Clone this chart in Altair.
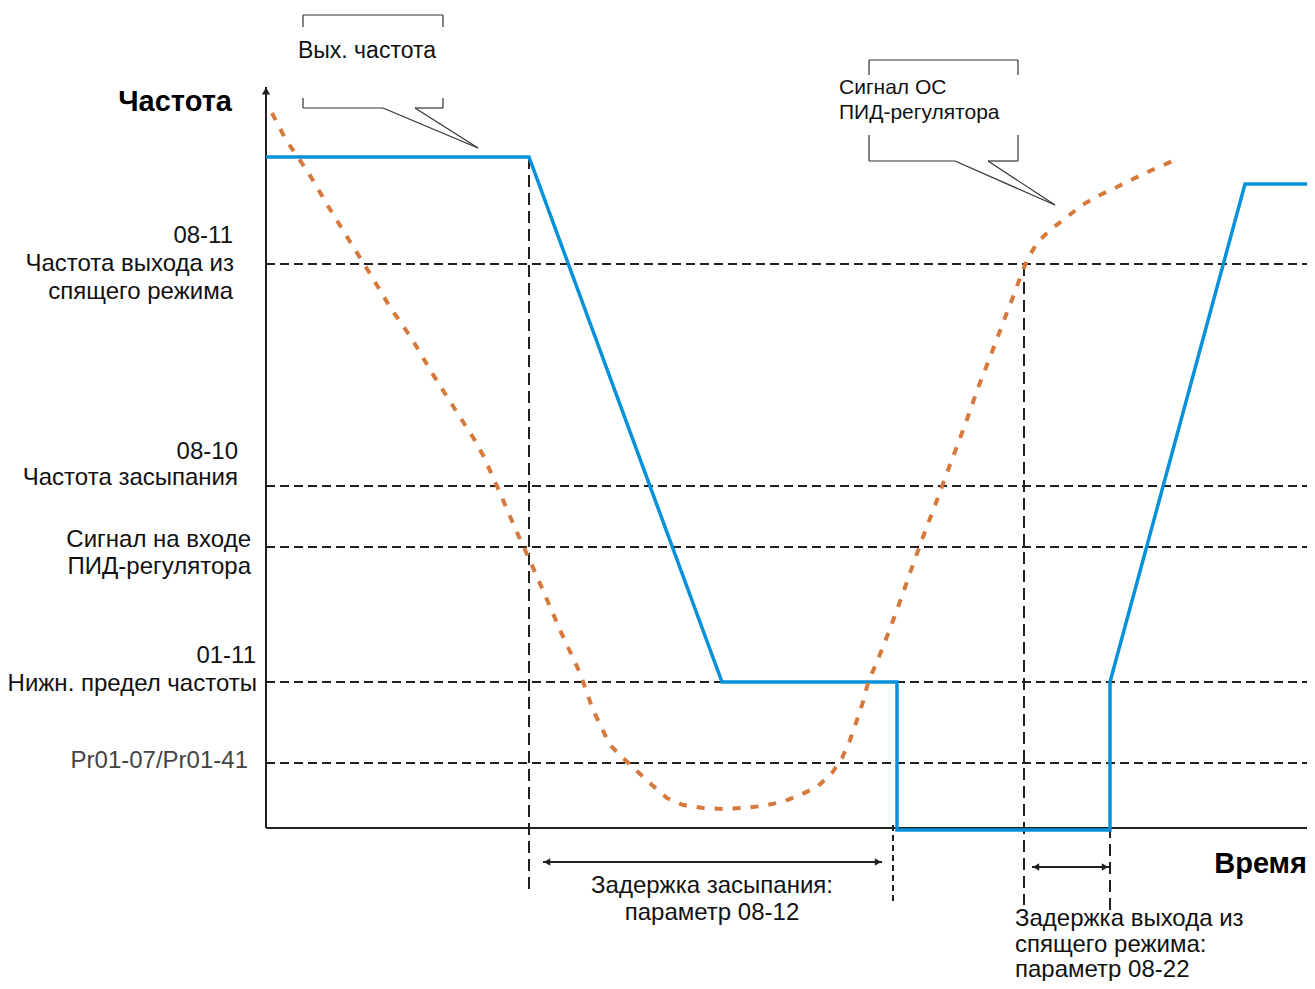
import altair as alt
import pandas as pd

# ---------------- data (time units t, level units f; f=0 is the time axis) -------------
level_names = ["08-11", "08-10", "pid_in", "01-11", "pr01-07"]
level_values = [564, 342, 281, 146, 65]
time_end = 1049

# output frequency (blue)
out_t = [0, 263, 456, 631, 631, 844, 844, 979, 1049]
out_f = [671, 671, 146, 146, -2, -2, 146, 644, 644]

# PID feedback signal (orange, dotted)
fb_t = [6, 20, 42, 62, 83, 103, 124, 146, 166, 187,
        208, 218, 234, 249, 265, 279, 294, 314, 327, 344,
        357, 372, 386, 401, 417, 437, 457, 477, 496, 516,
        534, 551, 566, 576, 584, 591, 597, 602, 617, 631,
        644, 657, 671, 685, 699, 712, 726, 740, 747, 754,
        761, 771, 784, 801, 816, 834, 851, 869, 886, 909]
fb_f = [715, 688, 656, 622, 588, 556, 521, 489, 455, 422,
        389, 371, 335, 300, 265, 233, 198, 155, 118, 83,
        70, 56, 43, 30, 23, 20, 19, 20, 22, 26,
        33, 41, 55, 70, 88, 108, 126, 145, 181, 218,
        255, 291, 328, 366, 403, 440, 476, 513, 531, 550,
        568, 585, 598, 611, 623, 633, 641, 650, 658, 668]

# vertical dashed markers
vdash_t = [263, 627, 758, 844]
vdash_top = [671, 3, 564, 146]
vdash_bot = [-62, -73, -77, -82]
vdash_style = ["long", "short", "long", "long"]

# axes
axis_t1 = [0, 0]
axis_f1 = [0, 0]
axis_t2 = [0, 1047]
axis_f2 = [741, 0]
axis_head_t = [0, 1045]
axis_head_f = [737, 0]
axis_head_shape = ["triangle-up", "triangle-right"]

# dimension arrows
dim_t1 = [277, 766]
dim_t2 = [616, 843]
dim_f = [-34, -39]
dim_head_t = [281, 612, 770, 839]
dim_head_f = [-34, -34, -39, -39]
dim_head_shape = ["triangle-left", "triangle-right", "triangle-left", "triangle-right"]

# callout outlines
call_t1 = [37, 37, 177, 37, 177, 37, 149, 117, 149,
           603, 603, 752, 603, 752, 603, 722, 689, 722]
call_f1 = [813, 813, 813, 730, 730, 720, 720, 720, 720,
           768, 768, 768, 693, 693, 667, 667, 667, 667]
call_t2 = [177, 37, 177, 37, 177, 117, 177, 212, 212,
           752, 603, 752, 603, 752, 689, 752, 789, 789]
call_f2 = [813, 801, 801, 720, 720, 720, 720, 680, 680,
           768, 753, 753, 667, 667, 667, 667, 623, 623]

# texts
right_text = ["08-11", "Частота выхода из", "спящего режима", "08-10", "Частота засыпания",
              "Сигнал на входе", "ПИД-регулятора", "01-11", "Нижн. предел частоты"]
right_t = [-33, -32, -33, -28, -28, -15, -15, -10, -9]
right_f = [592, 564, 536, 376, 350, 288, 261, 172, 144]

gray_text = ["Pr01-07/Pr01-41"]
gray_t = [-18]
gray_f = [67]

bold_text = ["Частота", "Время"]
bold_t = [-34, 1041]
bold_f = [726, -36]

callout_text = ["Вых. частота"]
callout_t = [101]
callout_f = [777]

center_text = ["Задержка засыпания:", "параметр 08-12"]
center_t = [446, 446]
center_f = [-58, -85]

pid_text = ["Сигнал ОС", "ПИД-регулятора"]
pid_t = [573, 573]
pid_f = [740, 715]

left_text = ["Задержка выхода из", "спящего режима:", "параметр 08-22"]
left_t = [749, 749, 749]
left_f = [-91, -117, -142]

# ---------------- chart -------------
BLACK = "#231f20"
BLUE = "#0791d9"
ORANGE = "#d5793c"
FONT = "Liberation Sans"

XS = alt.Scale(domain=[-258, 1041], nice=False, zero=False)
YS = alt.Scale(domain=[-153, 820], nice=False, zero=False)


def X(f="t"):
    return alt.X(f"{f}:Q", scale=XS, axis=None)


def Y(f="f"):
    return alt.Y(f"{f}:Q", scale=YS, axis=None)


hdf = pd.DataFrame({"name": level_names, "f": level_values,
                    "t": [0] * len(level_values), "t2": [time_end] * len(level_values)})
hlines = alt.Chart(hdf).mark_rule(color=BLACK, strokeWidth=2, strokeDash=[9, 5]).encode(
    x=X(), x2="t2:Q", y=Y())

vdf = pd.DataFrame({"t": vdash_t, "f": vdash_top, "f2": vdash_bot, "style": vdash_style})
vlong = alt.Chart(vdf[vdf["style"] == "long"]).mark_rule(
    color=BLACK, strokeWidth=2, strokeDash=[12, 6]).encode(x=X(), y=Y(), y2="f2:Q")
vshort = alt.Chart(vdf[vdf["style"] == "short"]).mark_rule(
    color=BLACK, strokeWidth=2, strokeDash=[6, 4]).encode(x=X(), y=Y(), y2="f2:Q")

adf = pd.DataFrame({"t": axis_t1, "f": axis_f1, "t2": axis_t2, "f2": axis_f2})
axes = alt.Chart(adf).mark_rule(color=BLACK, strokeWidth=2).encode(
    x=X(), y=Y(), x2="t2:Q", y2="f2:Q")
ahdf = pd.DataFrame({"t": axis_head_t, "f": axis_head_f, "shape": axis_head_shape})
axis_heads = alt.Chart(ahdf).mark_point(filled=True, color=BLACK, opacity=1, size=70).encode(
    x=X(), y=Y(), shape=alt.Shape("shape:N", scale=None))

ddf = pd.DataFrame({"t": dim_t1, "t2": dim_t2, "f": dim_f})
dims = alt.Chart(ddf).mark_rule(color=BLACK, strokeWidth=2).encode(x=X(), x2="t2:Q", y=Y())
dhdf = pd.DataFrame({"t": dim_head_t, "f": dim_head_f, "shape": dim_head_shape})
dim_heads = alt.Chart(dhdf).mark_point(filled=True, color=BLACK, opacity=1, size=55).encode(
    x=X(), y=Y(), shape=alt.Shape("shape:N", scale=None))

cdf = pd.DataFrame({"t": call_t1, "f": call_f1, "t2": call_t2, "f2": call_f2})
callouts = alt.Chart(cdf).mark_rule(color="#333333", strokeWidth=1.2).encode(
    x=X(), y=Y(), x2="t2:Q", y2="f2:Q")

odf = pd.DataFrame({"t": out_t, "f": out_f, "i": list(range(len(out_t)))})
out_line = alt.Chart(odf).mark_line(color=BLUE, strokeWidth=3.5, strokeJoin="miter").encode(
    x=X(), y=Y(), order="i:Q")

fdf = pd.DataFrame({"t": fb_t, "f": fb_f, "i": list(range(len(fb_t)))})
fb_line = alt.Chart(fdf).mark_line(color=ORANGE, strokeWidth=4, strokeDash=[8, 10]).encode(
    x=X(), y=Y(), order="i:Q")


def texts(txt, tt, ff, align, size=24, weight="normal", color="#111111"):
    df = pd.DataFrame({"label": txt, "t": tt, "f": ff})
    return alt.Chart(df).mark_text(align=align, baseline="middle", font=FONT, fontSize=size,
                                   fontWeight=weight, color=color).encode(
        x=X(), y=Y(), text="label:N")


layers = [
    hlines, vlong, vshort, axes, axis_heads, dims, dim_heads, callouts, out_line, fb_line,
    texts(right_text, right_t, right_f, "right"),
    texts(gray_text, gray_t, gray_f, "right", size=24, color="#444444"),
    texts(bold_text, bold_t, bold_f, "right", size=29, weight="bold", color="#000000"),
    texts(callout_text, callout_t, callout_f, "center", size=23),
    texts(center_text, center_t, center_f, "center"),
    texts(pid_text, pid_t, pid_f, "left", size=21),
    texts(left_text, left_t, left_f, "left"),
]

chart = alt.layer(*layers).properties(
    width=1299, height=973, autosize=alt.AutoSizeParams(type="none"), padding=0,
    background="white"
).configure_view(stroke=None)

chart.save("out.html", embed_options={"renderer": "svg", "actions": False})
